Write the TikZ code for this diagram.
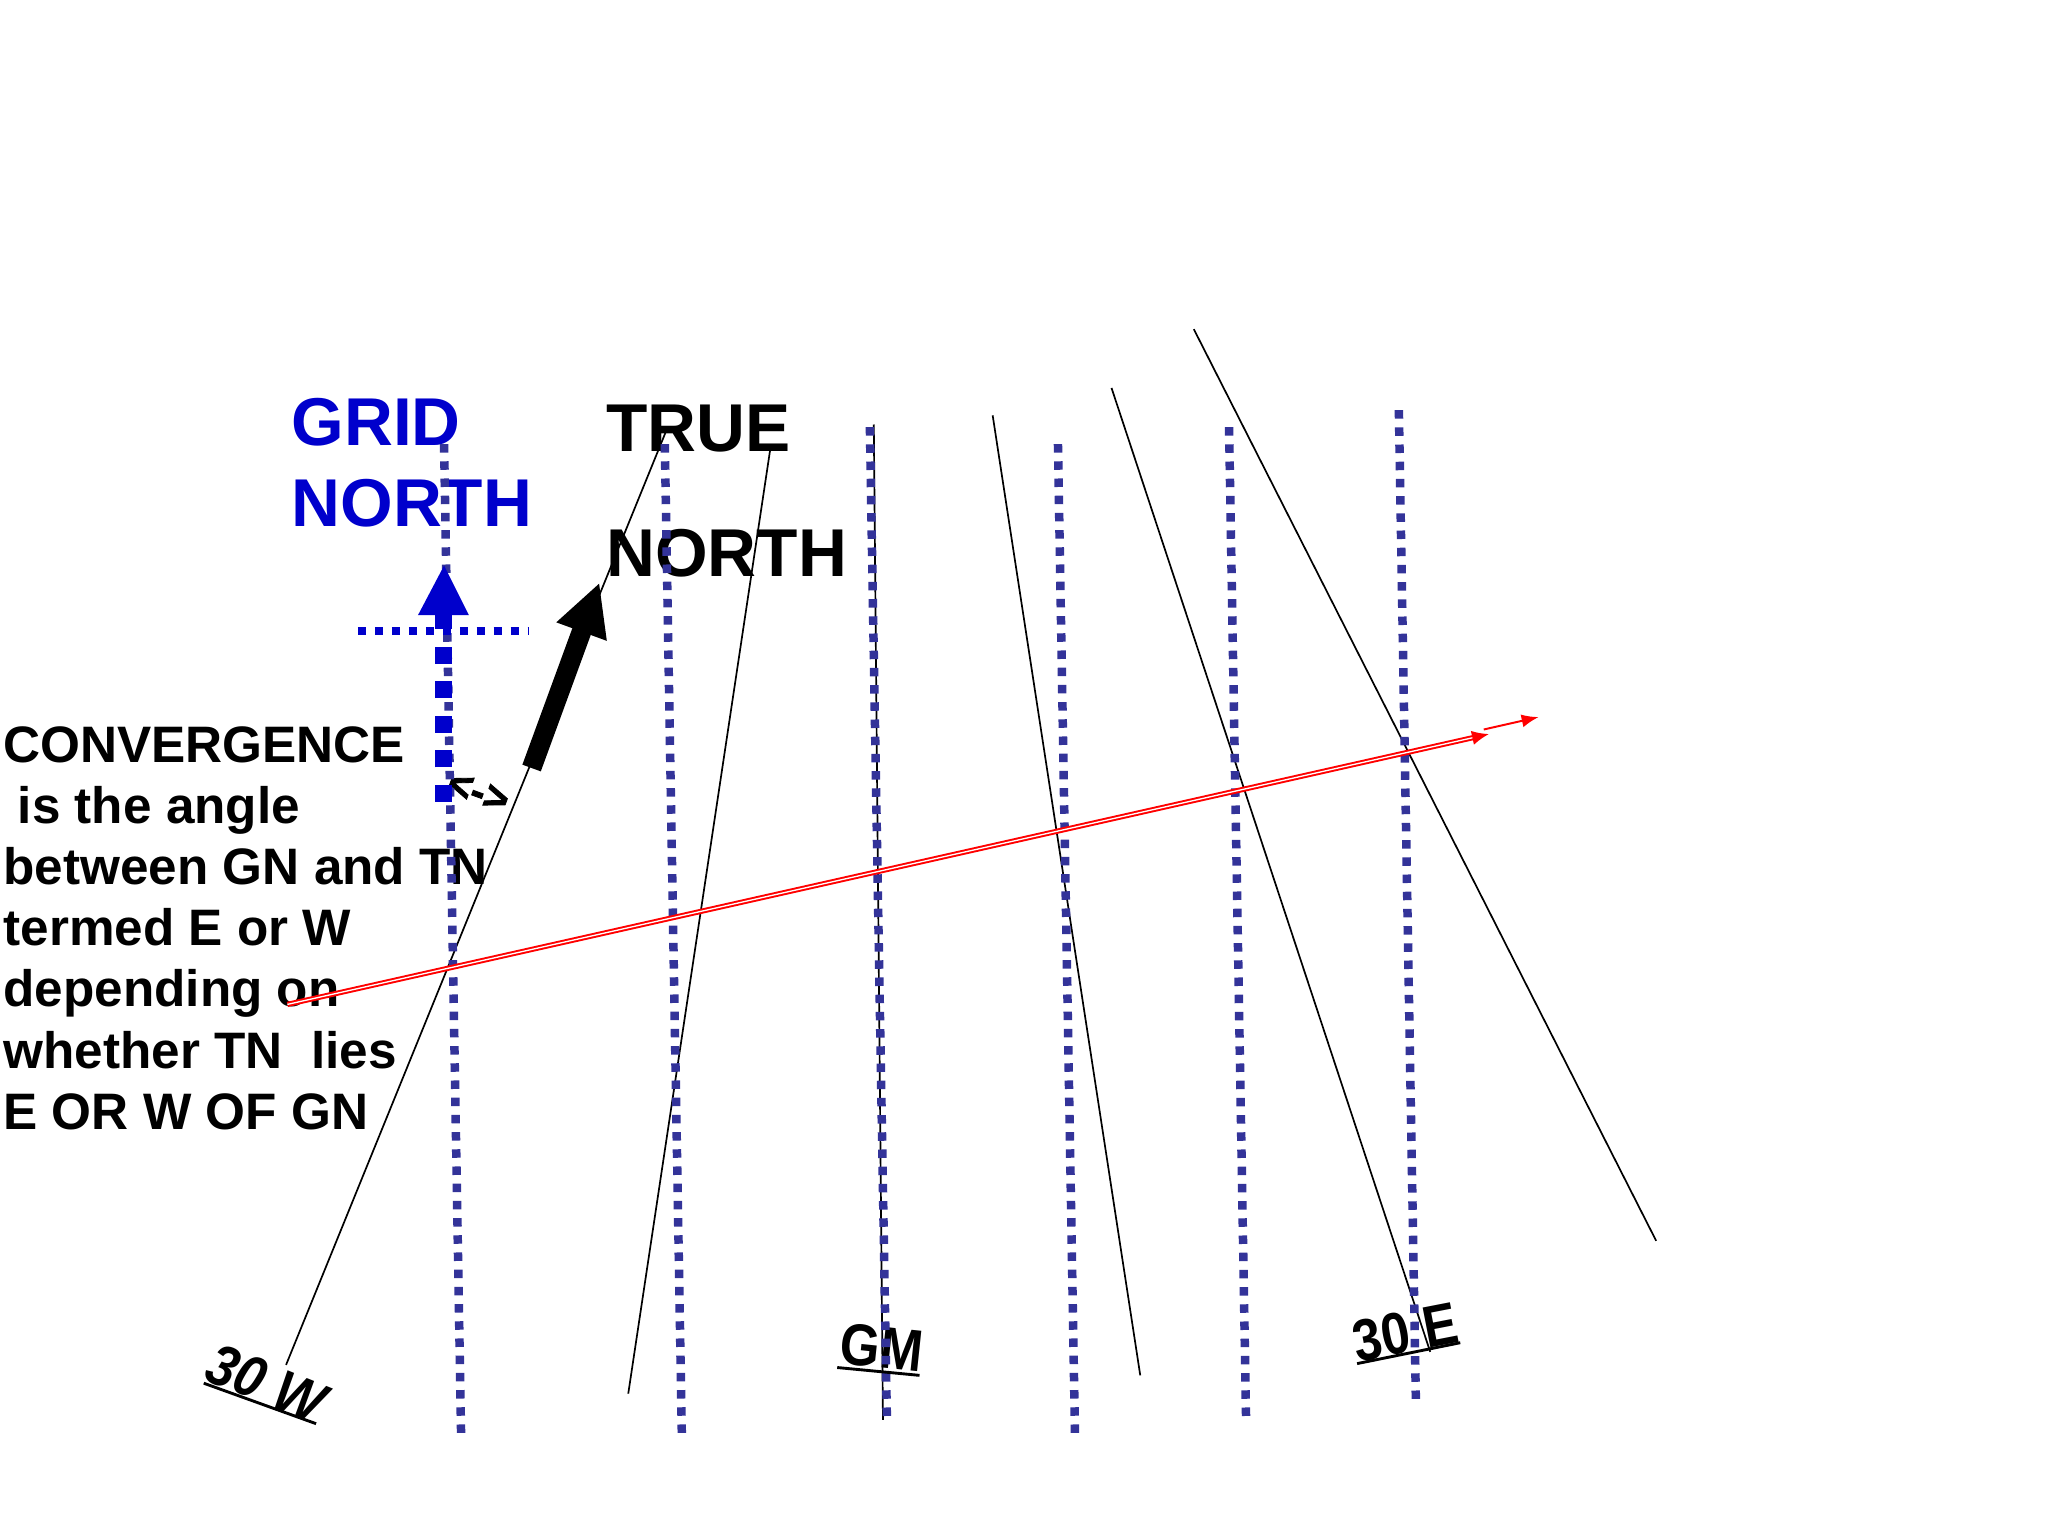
\documentclass[tikz,border=0pt]{standalone}
\usepackage{fontspec}
\setmainfont{Liberation Sans}
\usetikzlibrary{arrows.meta}
\definecolor{gridblue}{HTML}{0000CC}
\definecolor{dotblue}{HTML}{333399}
\begin{document}
\begin{tikzpicture}[x=1bp,y=-1bp,
  meridian/.style={black,line width=1.3bp},
  gridline/.style={dotblue,line width=6.5bp,dash pattern=on 6.5bp off 6.67bp},
  underline/.style={black,line width=2.2bp},
  title/.style={inner sep=0pt,align=left,font=\bfseries\fontsize{52}{62}\selectfont},
  label/.style={inner sep=0pt,font=\bfseries\fontsize{39.4}{47}\selectfont}]
\useasboundingbox (0,0) rectangle (1568,1176);
% texts
\node (gridtext) at (223,305)[title,anchor=north west,text=gridblue] {GRID\\NORTH};
\node (truetext) at (464,310)[title,anchor=north west,font=\bfseries\fontsize{52}{96}\selectfont] {TRUE\\NORTH};
\node (conv) at (2.5,556)[label,anchor=north west,align=left] {CONVERGENCE\\\hspace*{11bp}is the angle\\between GN and TN\\termed E or W\\depending on\\whether TN\ \ lies\\E OR W OF GN};
\node (west) at (204,1059)[label,rotate=-22,font=\bfseries\itshape\fontsize{40}{47}\selectfont] {\scalebox{1}[1.12]{30 W}};
\node (gm) at (675,1032)[label,rotate=-6] {\scalebox{1}[1.15]{GM}};
\node (east) at (1076,1020)[label,rotate=11] {\scalebox{1}[1.15]{30 E}};
\node (angle) at (366,607)[rotate=-20,inner sep=0pt,font=\bfseries\fontsize{32}{36}\selectfont\addfontfeature{FakeBold=2}] {<->};
% ends of the lines
\coordinate (M1b) at (219,1045); \coordinate (M1t) at (510,330);
\coordinate (M2b) at (481,1067); \coordinate (M2t) at (590,342);
\coordinate (M3b) at (676,1087); \coordinate (M3t) at (669,325);
\coordinate (M4b) at (873,1053); \coordinate (M4t) at (760,318);
\coordinate (M5b) at (1095,1035); \coordinate (M5t) at (851,297);
\coordinate (M6b) at (1268,950); \coordinate (M6t) at (914,252);
\coordinate (G1b) at (353,1097); \coordinate (G1t) at (340,340);
\coordinate (G2b) at (522,1097); \coordinate (G2t) at (509,340);
\coordinate (G3b) at (679,1085); \coordinate (G3t) at (666,327);
\coordinate (G4b) at (823,1097); \coordinate (G4t) at (810,340);
\coordinate (G5b) at (954,1085); \coordinate (G5t) at (941,327);
\coordinate (G6b) at (1084,1071); \coordinate (G6t) at (1071,314);
% meridians
\draw [meridian] (M1b) -- (M1t);
\draw [meridian] (M2b) -- (M2t);
\draw [meridian] (M3b) -- (M3t);
\draw [meridian] (M4b) -- (M4t);
\draw [meridian] (M5b) -- (M5t);
\draw [meridian] (M6b) -- (M6t);
% grid lines
\draw [gridline] (G1t) -- (G1b);
\draw [gridline] (G2t) -- (G2b);
\draw [gridline] (G3t) -- (G3b);
\draw [gridline] (G4t) -- (G4b);
\draw [gridline] (G5t) -- (G5b);
\draw [gridline] (G6t) -- (G6b);
% grid north arrow
\coordinate (GNb) at (339.5,614); \coordinate (GNt) at (340,433);
\coordinate (GNl) at (274,483); \coordinate (GNr) at (405,483);
\draw [gridblue,line width=6bp,dash pattern=on 6.5bp off 6.5bp] (GNl) -- (GNr);
\draw [gridblue,line width=13bp,dash pattern=on 13bp off 13.5bp] (GNb) -- (339.5,470);
\fill [gridblue] (GNt) -- (359,471) -- (320,471) -- cycle;
% true north arrow
\coordinate (TNb) at (407,588); \coordinate (TNt) at (459,446);
\draw [black,line width=15bp,-{Triangle[length=40bp,width=38bp]}] (TNb) -- (TNt);
% red line
\coordinate (Rs) at (220,769); \coordinate (Re) at (1140,562);
\coordinate (Qs) at (1136,558.5); \coordinate (Qe) at (1178,549);
\draw [red,line width=1.5bp,double=white,double distance=1bp,-{Latex[length=13bp,width=11bp]}] (Rs) -- (Re);
\draw [red,line width=1.5bp,-{Latex[length=13bp,width=10bp]}] (Qs) -- (Qe);
% underlines
\coordinate (U1a) at (156,1059); \coordinate (U1b) at (242,1090);
\coordinate (U2a) at (641,1047); \coordinate (U2b) at (704,1053);
\coordinate (U3a) at (1039,1044); \coordinate (U3b) at (1118,1028);
\draw [underline] (U1a) -- (U1b);
\draw [underline] (U2a) -- (U2b);
\draw [underline] (U3a) -- (U3b);
\end{tikzpicture}
\end{document}
